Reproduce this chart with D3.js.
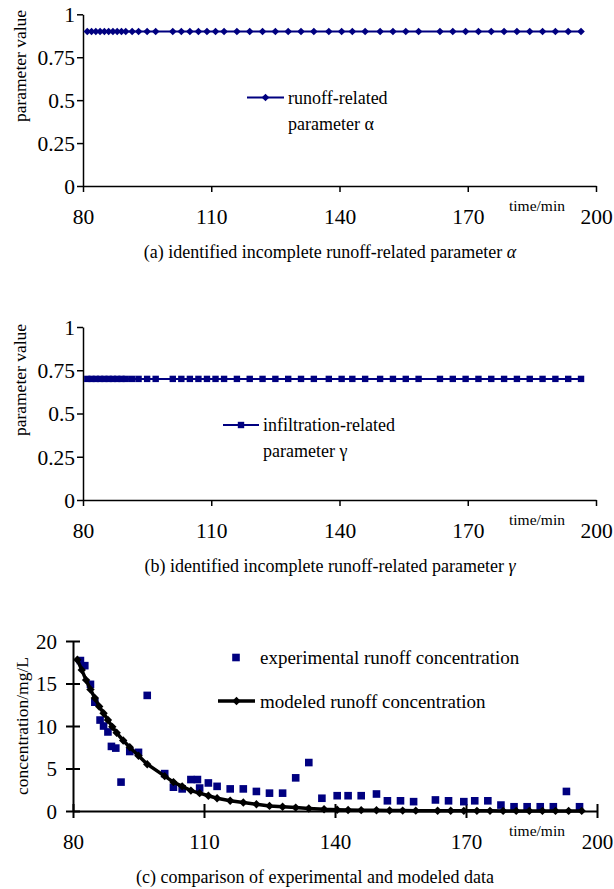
<!DOCTYPE html>
<html><head><meta charset="utf-8">
<script src="https://cdn.jsdelivr.net/npm/d3@7"></script>
<style>
body{margin:0;background:#fff}
svg{display:block}
text{font-family:"Liberation Serif","Times New Roman",serif;fill:#000}
</style>
</head><body>
<svg id="chart" width="614" height="889"></svg>
<script>
// ---------------- data ----------------
const times = [81,82,83,84,85,86,87,88,89,90,91.5,93,95,97,101,103,105,107,109,111,113,116,119,122,125,128,131,134,137.5,140.5,143,146,149.5,152.5,155.5,158.5,163.5,166.5,169.5,172.5,175.5,178.5,181.5,184.5,187.5,190.5,193.5,196.5];
const alphaValues = [0.9,0.9,0.9,0.9,0.9,0.9,0.9,0.9,0.9,0.9,0.9,0.9,0.9,0.9,0.9,0.9,0.9,0.9,0.9,0.9,0.9,0.9,0.9,0.9,0.9,0.9,0.9,0.9,0.9,0.9,0.9,0.9,0.9,0.9,0.9,0.9,0.9,0.9,0.9,0.9,0.9,0.9,0.9,0.9,0.9,0.9,0.9,0.9];
const gammaValues = [0.7,0.7,0.7,0.7,0.7,0.7,0.7,0.7,0.7,0.7,0.7,0.7,0.7,0.7,0.7,0.7,0.7,0.7,0.7,0.7,0.7,0.7,0.7,0.7,0.7,0.7,0.7,0.7,0.7,0.7,0.7,0.7,0.7,0.7,0.7,0.7,0.7,0.7,0.7,0.7,0.7,0.7,0.7,0.7,0.7,0.7,0.7,0.7];
const modeledConc = [17.8,16.6,15.4,14.3,13.3,12.3,11.5,10.7,9.9,9.2,8.3,7.5,6.5,5.5,4.1,3.4,2.9,2.4,2.1,1.8,1.5,1.2,1.0,0.8,0.6,0.5,0.4,0.3,0.2,0.15,0.12,0.1,0.08,0.06,0.05,0.04,0.03,0.03,0.02,0.02,0.02,0.01,0.01,0.01,0.01,0.01,0.01,0.01];
const expTimes = [81.7,82.7,84,85,86.2,87,88,88.8,89.8,91,93,95,97,101,103,105,107,108.5,109,111,113,116,119,122,125,128,131,134,137,140.5,143,146,149.5,152,155,158,163,166,169.5,172,175,178,181,184,187,190,193,196];
const expConc = [17.7,17.1,14.9,12.8,10.7,10.0,9.3,7.6,7.4,3.4,7.0,6.9,13.6,4.4,2.8,2.6,3.7,3.7,2.7,3.3,2.9,2.6,2.6,2.3,2.1,2.1,3.9,5.7,1.5,1.8,1.8,1.8,2.0,1.2,1.2,1.1,1.3,1.2,1.1,1.2,1.2,0.7,0.5,0.5,0.5,0.5,2.3,0.5];
const timeTicks = [80,110,140,170,200];
const paramTicks = [0,0.25,0.5,0.75,1];
const paramTickLabels = ["0","0.25","0.5","0.75","1"];
const concTicks = [0,5,10,15,20];

const NAVY = "#000080";
const svg = d3.select("#chart");
const diamond = r => `M0,${-r}L${r},0L0,${r}L${-r},0Z`;

function xAxisTitle(g, yAxis) {
  g.append("text").attr("x", 509).attr("y", yAxis + 25)
    .attr("font-size", 15.5).text("time/min");
}

// ---------------- panels (a) and (b) ----------------
function paramPanel(cfg) {
  const x = d3.scaleLinear().domain([80,200]).range([83,596]);
  const y = d3.scaleLinear().domain([0,1]).range([cfg.bottom, cfg.top]);
  const g = svg.append("g");

  const ya = g.append("g").attr("transform", `translate(83,0)`)
    .call(d3.axisLeft(y).tickValues(paramTicks).tickFormat((d,i)=>paramTickLabels[i]).tickSize(6).tickSizeOuter(0).tickPadding(2));
  const xa = g.append("g").attr("transform", `translate(0,${cfg.bottom})`)
    .call(d3.axisBottom(x).tickValues(timeTicks).tickSize(6).tickSizeOuter(0));
  [ya, xa].forEach(a => {
    a.select(".domain").attr("stroke", "#000").attr("stroke-width", 1.5);
    a.selectAll(".tick line").attr("stroke", "#000").attr("stroke-width", 1.5);
    a.selectAll("text").attr("font-size", 21.5).attr("font-family", '"Liberation Serif",serif').attr("fill", "#000");
  });
  ya.selectAll("text").attr("dy", "0.34em");
  xa.selectAll("text").attr("y", 38).attr("dy", 0);

  g.append("text").attr("transform", `translate(26,${cfg.labelY}) rotate(-90)`)
    .attr("text-anchor", "middle").attr("font-size", 17.5).text("parameter value");
  xAxisTitle(g, cfg.bottom);

  const data = times.map((t,i)=>({t, v: cfg.values[i]}));
  g.append("path").datum(data).attr("fill","none").attr("stroke",NAVY).attr("stroke-width",2)
    .attr("d", d3.line().x(d=>x(d.t)).y(d=>y(d.v)));
  if (cfg.marker === "diamond") {
    g.selectAll(".m").data(data).join("path").attr("fill",NAVY)
      .attr("transform", d=>`translate(${x(d.t)},${y(d.v)})`).attr("d", diamond(3.8));
  } else {
    g.selectAll(".m").data(data).join("rect").attr("fill",NAVY)
      .attr("x", d=>x(d.t)-3.2).attr("y", d=>y(d.v)-3.2).attr("width",6.4).attr("height",6.4);
  }

  // legend
  const lg = g.append("g");
  lg.append("line").attr("x1", cfg.legX1).attr("x2", cfg.legX2).attr("y1", cfg.legY).attr("y2", cfg.legY)
    .attr("stroke", NAVY).attr("stroke-width", 2);
  const mx = (cfg.legX1 + cfg.legX2) / 2;
  if (cfg.marker === "diamond") {
    lg.append("path").attr("fill",NAVY).attr("transform",`translate(${mx},${cfg.legY})`).attr("d", diamond(3.8));
  } else {
    lg.append("rect").attr("fill",NAVY).attr("x",mx-3.2).attr("y",cfg.legY-3.2).attr("width",6.4).attr("height",6.4);
  }
  lg.append("text").attr("x", cfg.legX2 + 4).attr("y", cfg.legY + 6).attr("font-size", 18).text(cfg.leg1);
  lg.append("text").attr("x", cfg.legX2 + 4).attr("y", cfg.legY + 32).attr("font-size", 18).text(cfg.leg2);

  // caption
  const cap = g.append("text").attr("x", 330).attr("y", cfg.bottom + 72).attr("text-anchor","middle").attr("font-size", 18);
  cap.append("tspan").text(cfg.caption);
  cap.append("tspan").attr("font-style","italic").text(cfg.capSym);
}

paramPanel({top:14.3, bottom:186, labelY:66, values: alphaValues, marker:"diamond",
  legX1:247, legX2:284, legY:97.5, leg1:"runoff-related", leg2:"parameter α",
  caption:"(a) identified incomplete runoff-related parameter ", capSym:"α"});
paramPanel({top:327, bottom:500, labelY:380, values: gammaValues, marker:"square",
  legX1:223, legX2:259, legY:425, leg1:"infiltration-related", leg2:"parameter γ",
  caption:"(b) identified incomplete runoff-related parameter ", capSym:"γ"});

// ---------------- panel (c) ----------------
(function(){
  const top = 641, bottom = 811;
  const x = d3.scaleLinear().domain([80,200]).range([73,597]);
  const y = d3.scaleLinear().domain([0,20]).range([bottom, top]);
  const g = svg.append("g");

  const ya = g.append("g").attr("transform", `translate(73,0)`)
    .call(d3.axisLeft(y).tickValues(concTicks).tickSize(7).tickSizeOuter(0).tickPadding(9));
  const xa = g.append("g").attr("transform", `translate(0,${bottom})`)
    .call(d3.axisBottom(x).tickValues(timeTicks).tickSize(7).tickSizeOuter(0));
  [ya, xa].forEach(a => {
    a.select(".domain").attr("stroke", "#000").attr("stroke-width", 2);
    a.selectAll(".tick line").attr("stroke", "#000").attr("stroke-width", 2);
    a.selectAll("text").attr("font-size", 21).attr("font-family", '"Liberation Serif",serif').attr("fill", "#000");
  });
  ya.selectAll(".tick line").attr("x1", 7).attr("x2", -7);
  xa.selectAll(".tick line").attr("y1", -7).attr("y2", 7);
  ya.selectAll("text").attr("dy", "0.34em");
  xa.selectAll("text").attr("y", 38).attr("dy", 0);

  g.append("text").attr("transform", `translate(28,${(top+bottom)/2}) rotate(-90)`)
    .attr("text-anchor","middle").attr("font-size", 17.5).text("concentration/mg/L");
  xAxisTitle(g, bottom);

  const expData = expTimes.map((t,i)=>({t, v: expConc[i]}));
  const modData = times.map((t,i)=>({t, v: modeledConc[i]}));
  const s = 7.6;
  g.selectAll(".e").data(expData).join("rect").attr("fill", NAVY)
    .attr("x", d=>x(d.t)-s/2).attr("y", d=>y(d.v)-s/2).attr("width", s).attr("height", s);
  g.append("path").datum(modData).attr("fill","none").attr("stroke","#000").attr("stroke-width",3.5)
    .attr("d", d3.line().x(d=>x(d.t)).y(d=>y(d.v)));
  g.selectAll(".md").data(modData).join("path").attr("fill","#000")
    .attr("transform", d=>`translate(${x(d.t)},${y(d.v)})`).attr("d", diamond(4.2));

  // legend
  g.append("rect").attr("fill",NAVY).attr("x",236-s/2).attr("y",657.5-s/2).attr("width",s).attr("height",s);
  g.append("text").attr("x",260).attr("y",664).attr("font-size",19).text("experimental runoff concentration");
  g.append("line").attr("x1",218).attr("x2",255).attr("y1",701).attr("y2",701).attr("stroke","#000").attr("stroke-width",3.5);
  g.append("path").attr("fill","#000").attr("transform","translate(236.5,701)").attr("d", diamond(4.2));
  g.append("text").attr("x",260).attr("y",708).attr("font-size",19).text("modeled runoff concentration");

  g.append("text").attr("x", 315).attr("y", bottom + 72).attr("text-anchor","middle").attr("font-size",18)
    .text("(c) comparison of experimental and modeled data");
})();
</script>
</body></html>
